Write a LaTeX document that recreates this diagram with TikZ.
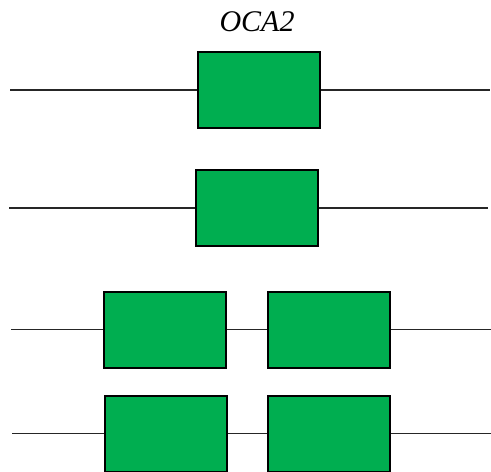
\documentclass[tikz,border=0pt]{standalone}
\usepackage{fontspec}
\setmainfont{Liberation Serif}
\definecolor{exongreen}{HTML}{00AE50}
\begin{document}
\begin{tikzpicture}[x=1pt,y=-1pt,
  exon/.style={draw=black,line width=2pt,fill=exongreen,minimum width=122pt,minimum height=76pt,inner sep=0pt},
  intron/.style={draw=black!85,line width=1.3pt}]
\useasboundingbox (0,0) rectangle (491,472);
% gene label
\node[font=\itshape\fontsize{30}{32}\selectfont] (title) at (257,22) {OCA2};
% row 1
\coordinate (a1) at (10,90);
\coordinate (b1) at (490,90);
\node[exon] (e1) at (258.5,90) {};
\draw[intron] (a1) -- (e1.west);
\draw[intron] (e1.east) -- (b1);
% row 2
\coordinate (a2) at (9,208);
\coordinate (b2) at (488,208);
\node[exon] (e2) at (256.5,208) {};
\draw[intron] (a2) -- (e2.west);
\draw[intron] (e2.east) -- (b2);
% row 3
\coordinate (a3) at (11,329.5);
\coordinate (b3) at (491,329.5);
\node[exon] (e3a) at (165,329.5) {};
\node[exon] (e3b) at (328.5,329.5) {};
\draw[intron] (a3) -- (e3a.west);
\draw[intron] (e3a.east) -- (e3b.west);
\draw[intron] (e3b.east) -- (b3);
% row 4
\coordinate (a4) at (12,433.5);
\coordinate (b4) at (491,433.5);
\node[exon] (e4a) at (166,433.5) {};
\node[exon] (e4b) at (329,433.5) {};
\draw[intron] (a4) -- (e4a.west);
\draw[intron] (e4a.east) -- (e4b.west);
\draw[intron] (e4b.east) -- (b4);
\end{tikzpicture}
\end{document}
